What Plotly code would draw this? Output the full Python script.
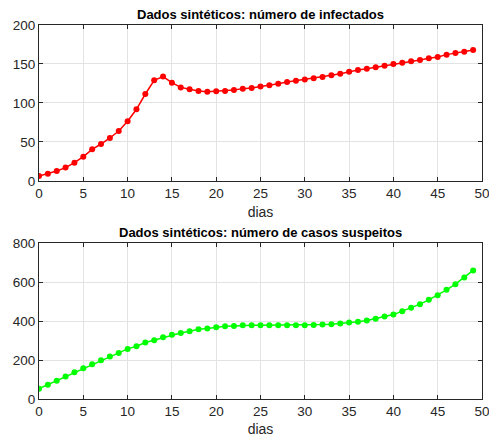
import plotly.graph_objects as go
from plotly.subplots import make_subplots

# Synthetic daily data
dias = list(range(50))

infectados = [6.4, 9.4, 12.8, 17.1, 23.5, 31.2, 40.6, 47.4, 55.1, 64.1,
              76.5, 91.9, 111.5, 129.0, 133.8, 126.0, 120.0, 117.5, 115.4, 114.5,
              115.0, 115.4, 116.7, 118.4, 119.2, 121.0, 122.6, 124.8, 127.0, 128.6,
              130.0, 131.6, 133.3, 135.5, 137.6, 140.2, 142.3, 144.0, 145.7, 147.9,
              150.0, 151.7, 153.4, 155.1, 157.3, 159.0, 162.0, 164.1, 165.8, 168.0]

suspeitos = [53, 73.7, 94, 114.8, 137, 157.6, 178, 198.7, 217.6, 236.4,
             257, 270.7, 289.5, 301.5, 317, 329, 339, 347.8, 358, 361.5,
             368, 373.4, 375, 378.6, 378.5, 378.5, 378.5, 378.5, 378.5, 378.5,
             378.5, 379.5, 382, 383.7, 387, 392, 395.7, 402.6, 411, 423,
             433, 450.5, 467.7, 486.5, 508.8, 532.8, 560, 589, 623.6, 659.5]

titulos = ["Dados sintéticos: número de infectados",
           "Dados sintéticos: número de casos suspeitos"]

x_ticks = [0, 5, 10, 15, 20, 25, 30, 35, 40, 45, 50]
y1_ticks = [0, 50, 100, 150, 200]
y2_ticks = [0, 200, 400, 600, 800]

FONT = "Liberation Sans, Arial, sans-serif"
AXIS_COLOR = "#262626"
GRID_COLOR = "#e3e3e3"

fig = make_subplots(rows=2, cols=1, vertical_spacing=0.166)

fig.add_trace(go.Scatter(
    x=dias, y=infectados, mode="lines+markers",
    line=dict(color="#ff0000", width=1.5),
    marker=dict(color="#ff0000", size=6),
    showlegend=False), row=1, col=1)

fig.add_trace(go.Scatter(
    x=dias, y=suspeitos, mode="lines+markers",
    line=dict(color="#00ff00", width=1.5),
    marker=dict(color="#00ff00", size=6),
    showlegend=False), row=2, col=1)

axis_common = dict(
    showline=True, linecolor=AXIS_COLOR, linewidth=1, mirror="ticks",
    ticks="inside", ticklen=4, tickcolor=AXIS_COLOR,
    showgrid=True, gridcolor=GRID_COLOR, gridwidth=1,
    zeroline=False, ticklabeloverflow="allow", automargin=False,
    tickfont=dict(family=FONT, size=13.5, color=AXIS_COLOR),
)

for r in (1, 2):
    fig.update_xaxes(range=[0, 50], tickvals=x_ticks,
                     title=dict(text="dias", font=dict(family=FONT, size=14, color=AXIS_COLOR),
                                standoff=7),
                     row=r, col=1, **axis_common)

fig.update_yaxes(range=[0, 200], tickvals=y1_ticks, row=1, col=1, **axis_common)
fig.update_yaxes(range=[0, 800], tickvals=y2_ticks, row=2, col=1, **axis_common)

fig.update_layout(
    width=489, height=437,
    margin=dict(l=39, r=7, t=25, b=38),
    paper_bgcolor="white", plot_bgcolor="white",
    font=dict(family=FONT, color=AXIS_COLOR),
)

# Subplot titles placed just above each axes box
for i, (txt, yref) in enumerate(zip(titulos, ["y domain", "y2 domain"])):
    fig.add_annotation(
        text="<b>" + txt + "</b>", xref="x domain" if i == 0 else "x2 domain",
        yref=yref, x=0.5, y=1.0, yanchor="bottom", xanchor="center",
        yshift=1, showarrow=False,
        font=dict(family=FONT, size=13, color="#000000"))

fig.write_html("out.html")
